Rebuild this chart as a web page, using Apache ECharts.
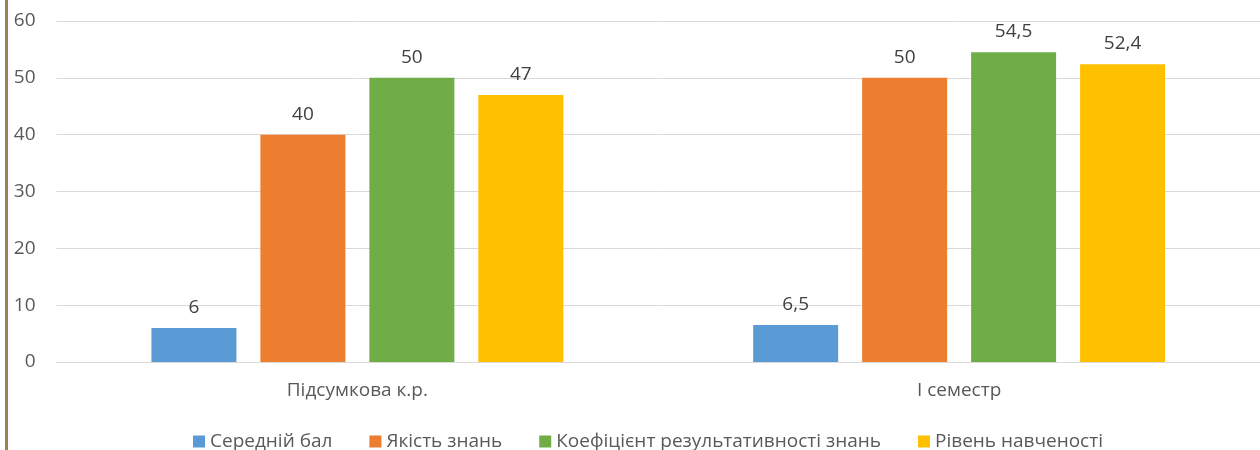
<!DOCTYPE html>
<html>
<head>
<meta charset="utf-8">
<script src="https://cdn.jsdelivr.net/npm/echarts@6/dist/echarts.min.js"></script>
<style>
  html, body { margin: 0; padding: 0; background: #fff; }
  #chart { width: 1260px; height: 450px; }
</style>
</head>
<body>
<div id="chart"></div>
<script>
// Categories and series values
const categories = ['Підсумкова к.р.', 'І семестр'];
const seriesNames = ['Середній бал', 'Якість знань', 'Коефіцієнт результативності знань', 'Рівень навченості'];
const avgScore = [6, 6.5];
const knowledgeQuality = [40, 50];
const effectiveness = [50, 54.5];
const learningLevel = [47, 52.4];
const colors = ['#5b9bd5', '#ed7d31', '#70ad47', '#ffc000'];

const values = [avgScore, knowledgeQuality, effectiveness, learningLevel];
const font = '"Open Sans", "Noto Sans", sans-serif';
const textColor = '#595959';

const chart = echarts.init(document.getElementById('chart'), null, { renderer: 'canvas' });
chart.setOption({
  animation: false,
  color: colors,
  textStyle: { fontFamily: font },
  graphic: [{
    type: 'rect',
    shape: { x: 5, y: 0, width: 3, height: 450 },
    style: { fill: '#a08050' },
    silent: true
  }],
  grid: { left: 56.5, top: 21, width: 1206, height: 341 },
  legend: {
    left: 188,
    top: 427,
    itemWidth: 12,
    itemHeight: 12,
    itemGap: 37,
    icon: 'rect',
    textStyle: { fontFamily: font, fontSize: 19, color: textColor },
    data: seriesNames
  },
  xAxis: {
    type: 'category',
    data: categories,
    axisLine: { lineStyle: { color: '#d9d9d9' } },
    axisTick: { show: false },
    axisLabel: { fontFamily: font, fontSize: 19, color: textColor, margin: 19 }
  },
  yAxis: {
    type: 'value',
    min: 0,
    max: 60,
    interval: 10,
    axisLine: { show: false },
    axisTick: { show: false },
    splitLine: { lineStyle: { color: '#d9d9d9' } },
    axisLabel: { fontFamily: font, fontSize: 19, color: textColor, margin: 21 }
  },
  series: seriesNames.map((name, i) => ({
    name,
    type: 'bar',
    data: values[i],
    barWidth: 85,
    barGap: '28.2%',
    itemStyle: { color: colors[i] },
    label: {
      show: true,
      position: 'top',
      distance: 11,
      fontFamily: font,
      fontSize: 19,
      color: '#404040',
      formatter: p => String(p.value).replace('.', ',')
    }
  }))
});
</script>
</body>
</html>
